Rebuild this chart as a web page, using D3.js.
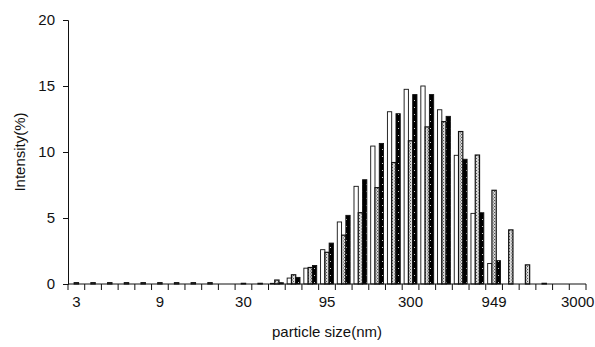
<!DOCTYPE html>
<html>
<head>
<meta charset="utf-8">
<script src="https://cdn.jsdelivr.net/npm/d3@7"></script>
<style>
  body { margin: 0; background: #fff; }
  text { font-family: Arial, "Liberation Sans", sans-serif; fill: #111; }
</style>
</head>
<body>
<script>
const svgWidth = 595;
const svgHeight = 347;

const margin = { top: 20, right: 9, bottom: 63, left: 68 };

// particle size bins (nm), log spaced
var sizeLabels = ["3", "3.8", "4.8", "6", "7.5", "9", "12", "15", "19", "24",
  "30", "38", "48", "60", "75", "95", "119", "150", "189", "238",
  "300", "378", "476", "599", "754", "949", "1195", "1504", "1894", "2384", "3000"];
var labelEvery = 5;

// intensity (%) for the three samples
var sampleA = [0, 0, 0, 0, 0, 0, 0, 0, 0, 0,
  0, 0, 0.05, 0.45, 1.2, 2.6, 4.7, 7.4, 10.45, 13.05,
  14.75, 15.0, 13.2, 9.75, 5.35, 1.55, 0, 0, 0, 0, 0];
var sampleB = [0.1, 0.1, 0.1, 0.1, 0.1, 0.1, 0.1, 0.1, 0.1, 0,
  0.05, 0.05, 0.3, 0.7, 1.25, 2.4, 3.7, 5.4, 7.3, 9.2,
  10.85, 11.9, 12.3, 11.55, 9.77, 7.1, 4.1, 1.45, 0.05, 0, 0];
var sampleC = [0, 0, 0, 0, 0, 0, 0, 0, 0, 0,
  0, 0, 0.1, 0.5, 1.4, 3.1, 5.2, 7.9, 10.65, 12.9,
  14.35, 14.35, 12.7, 9.45, 5.4, 1.77, 0, 0, 0, 0, 0];

var yTicks = [0, 5, 10, 15, 20];

const svg = d3.select("body")
  .append("svg")
  .attr("width", svgWidth)
  .attr("height", svgHeight);

// fill patterns
const defs = svg.append("defs");
const dotPat = defs.append("pattern")
  .attr("id", "dots")
  .attr("patternUnits", "userSpaceOnUse")
  .attr("width", 3).attr("height", 3);
dotPat.append("rect").attr("width", 3).attr("height", 3).attr("fill", "#d8d8d8");
dotPat.append("rect").attr("x", 0).attr("y", 0).attr("width", 1).attr("height", 1).attr("fill", "#555");
dotPat.append("rect").attr("x", 2).attr("y", 1.5).attr("width", 1).attr("height", 1).attr("fill", "#666");

const blackPat = defs.append("pattern")
  .attr("id", "blackdots")
  .attr("patternUnits", "userSpaceOnUse")
  .attr("width", 4).attr("height", 7);
blackPat.append("rect").attr("width", 4).attr("height", 7).attr("fill", "#000");
blackPat.append("rect").attr("x", 2).attr("y", 3).attr("width", 1).attr("height", 1).attr("fill", "#ccc");

const chartWidth = svgWidth - margin.left - margin.right;
const chartHeight = svgHeight - margin.top - margin.bottom;

const chartGroup = svg.append("g")
  .attr("transform", `translate(${margin.left}, ${margin.top})`);

const xScale = d3.scaleBand()
  .domain(d3.range(sizeLabels.length))
  .range([0, chartWidth])
  .padding(0);

const series = [
  { name: "A", values: sampleA, fill: "#fff", sw: 0.9 },
  { name: "B", values: sampleB, fill: "url(#dots)", sw: 1.2 },
  { name: "C", values: sampleC, fill: "url(#blackdots)", sw: 0.9 }
];

const innerScale = d3.scaleBand()
  .domain(series.map(s => s.name))
  .range([0, xScale.bandwidth()])
  .paddingInner(0)
  .paddingOuter(0.45);

const yScale = d3.scaleLinear()
  .domain([0, 20])
  .range([chartHeight, 0]);

// bars, one group per sample
series.forEach(s => {
  const idx = d3.range(s.values.length).filter(i => s.values[i] > 0);
  chartGroup.append("g")
    .selectAll("rect")
    .data(idx)
    .enter()
    .append("rect")
    .attr("x", i => xScale(i) + innerScale(s.name))
    .attr("y", i => yScale(s.values[i]))
    .attr("width", innerScale.bandwidth())
    .attr("height", i => chartHeight - yScale(s.values[i]))
    .attr("fill", s.fill)
    .attr("stroke", "#111")
    .attr("stroke-width", s.sw);
});

// y axis
const yAxis = d3.axisLeft(yScale)
  .tickValues(yTicks)
  .tickSize(5)
  .tickPadding(8);
const yG = chartGroup.append("g").call(yAxis);
yG.select(".domain").attr("stroke", "#111");
yG.selectAll(".tick line").attr("stroke", "#111");
yG.selectAll(".tick text")
  .style("font-size", "15px")
  .style("font-family", "Arial, 'Liberation Sans', sans-serif")
  .attr("fill", "#111");

// x axis: ticks between categories, labels every 5th
const xAxisG = chartGroup.append("g")
  .attr("transform", `translate(0, ${chartHeight})`);
xAxisG.append("line")
  .attr("x1", 0).attr("x2", chartWidth)
  .attr("y1", 0).attr("y2", 0)
  .attr("stroke", "#111");
xAxisG.selectAll(".xtick")
  .data(d3.range(sizeLabels.length + 1))
  .enter()
  .append("line")
  .attr("class", "xtick")
  .attr("x1", i => i < sizeLabels.length ? xScale(i) : chartWidth)
  .attr("x2", i => i < sizeLabels.length ? xScale(i) : chartWidth)
  .attr("y1", 0)
  .attr("y2", 6)
  .attr("stroke", "#111");
xAxisG.selectAll(".xlabel")
  .data(d3.range(sizeLabels.length).filter(i => i % labelEvery === 0))
  .enter()
  .append("text")
  .attr("class", "xlabel")
  .attr("x", i => xScale(i) + xScale.bandwidth() / 2)
  .attr("y", 23)
  .attr("text-anchor", "middle")
  .style("font-size", "15px")
  .text(i => sizeLabels[i]);

// axis titles
svg.append("text")
  .attr("x", margin.left + chartWidth / 2)
  .attr("y", 337)
  .attr("text-anchor", "middle")
  .style("font-size", "15px")
  .text("particle size(nm)");

svg.append("text")
  .attr("transform", `translate(25, ${margin.top + chartHeight / 2}) rotate(-90)`)
  .attr("text-anchor", "middle")
  .style("font-size", "15px")
  .text("Intensity(%)");
</script>
</body>
</html>
